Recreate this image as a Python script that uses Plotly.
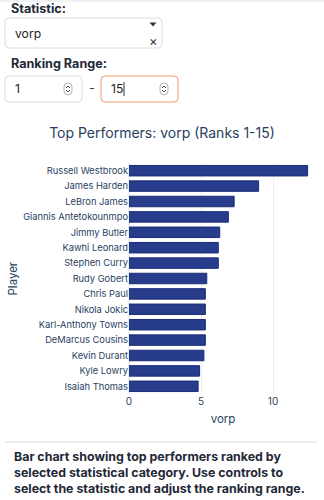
import plotly.graph_objects as go

# Top performers by VORP, ranks 1-15
players = [
    "Russell Westbrook", "James Harden", "LeBron James", "Giannis Antetokounmpo",
    "Jimmy Butler", "Kawhi Leonard", "Stephen Curry", "Rudy Gobert", "Chris Paul",
    "Nikola Jokic", "Karl-Anthony Towns", "DeMarcus Cousins", "Kevin Durant",
    "Kyle Lowry", "Isaiah Thomas",
]
vorp = [12.4, 9.0, 7.3, 6.9, 6.3, 6.2, 6.2, 5.4, 5.3, 5.3, 5.3, 5.3, 5.2, 4.9, 4.8]

stat_name = "vorp"
rank_lo, rank_hi = 1, 15
x_ticks = [0, 5, 10]

W, H = 324, 500
ML, MR, MT, MB = 129, 7, 163, 106
PW, PH = W - ML - MR, H - MT - MB

FONT = "Inter, Roboto, sans-serif"
DARK = "#1f2937"
AXIS = "#2a3f5f"


def px(x):
    return (x - ML) / PW


def py(y):
    return 1 - (y - MT) / PH


def rrect(x0, y0, x1, y1, r):
    """Rounded rectangle path in paper coordinates from pixel corners."""
    pts = [
        f"M{px(x0 + r)},{py(y0)}",
        f"L{px(x1 - r)},{py(y0)}",
        f"Q{px(x1)},{py(y0)} {px(x1)},{py(y0 + r)}",
        f"L{px(x1)},{py(y1 - r)}",
        f"Q{px(x1)},{py(y1)} {px(x1 - r)},{py(y1)}",
        f"L{px(x0 + r)},{py(y1)}",
        f"Q{px(x0)},{py(y1)} {px(x0)},{py(y1 - r)}",
        f"L{px(x0)},{py(y0 + r)}",
        f"Q{px(x0)},{py(y0)} {px(x0 + r)},{py(y0)}",
        "Z",
    ]
    return " ".join(pts)


def poly(points, close=False):
    s = "M" + " L".join(f"{px(a)},{py(b)}" for a, b in points)
    return s + (" Z" if close else "")


fig = go.Figure(
    go.Bar(
        x=vorp,
        y=players,
        orientation="h",
        marker=dict(color="#283c8c", line=dict(color="#1b2d78", width=1)),
    )
)

shapes = []
annotations = []

# thin strip across the top of the page
shapes.append(dict(type="rect", xref="paper", yref="paper",
                   x0=px(0), x1=px(W), y0=py(0), y1=py(2),
                   fillcolor="#f1f2f4", line=dict(width=0), layer="below"))

# "Statistic:" dropdown
annotations.append(dict(text="<b>Statistic:</b>", x=px(9), y=py(8), xref="paper", yref="paper",
                        xanchor="left", yanchor="middle", showarrow=False,
                        font=dict(family=FONT, size=12.6, color=DARK)))
shapes.append(dict(type="path", xref="paper", yref="paper", path=rrect(5, 18, 162, 48, 4),
                   line=dict(color="#d9dce1", width=1), fillcolor="white"))
annotations.append(dict(text=stat_name, x=px(13), y=py(33), xref="paper", yref="paper",
                        xanchor="left", yanchor="middle", showarrow=False,
                        font=dict(family=FONT, size=12.2, color="#222")))
shapes.append(dict(type="path", xref="paper", yref="paper",
                   path=poly([(149.5, 22.5), (156.5, 22.5), (153, 26.5)], close=True),
                   fillcolor="#333", line=dict(width=0)))
annotations.append(dict(text="×", x=px(153), y=py(41), xref="paper", yref="paper",
                        xanchor="center", yanchor="middle", showarrow=False,
                        font=dict(family=FONT, size=13, color="#333")))

# "Ranking Range:" inputs
annotations.append(dict(text="<b>Ranking Range:</b>", x=px(9), y=py(63), xref="paper", yref="paper",
                        xanchor="left", yanchor="middle", showarrow=False,
                        font=dict(family=FONT, size=12.6, color=DARK)))
for (x0, x1, border, val) in [(5, 82, "#d9dce1", str(rank_lo)), (101, 178, "#f0996e", str(rank_hi))]:
    shapes.append(dict(type="path", xref="paper", yref="paper", path=rrect(x0, 76, x1, 102, 4),
                       line=dict(color=border, width=1), fillcolor="white"))
    annotations.append(dict(text=val, x=px(x0 + 8), y=py(89), xref="paper", yref="paper",
                            xanchor="left", yanchor="middle", showarrow=False,
                            font=dict(family=FONT, size=12.2, color="#222")))
    # spinner control
    sx = x1 - 14
    shapes.append(dict(type="path", xref="paper", yref="paper", path=rrect(sx - 4, 83, sx + 4, 95, 4),
                       line=dict(color="#b5b9c0", width=1)))
    shapes.append(dict(type="path", xref="paper", yref="paper",
                       path=poly([(sx - 2, 88), (sx, 86), (sx + 2, 88)]),
                       line=dict(color="#555", width=1)))
    shapes.append(dict(type="path", xref="paper", yref="paper",
                       path=poly([(sx - 2, 90), (sx, 92), (sx + 2, 90)]),
                       line=dict(color="#555", width=1)))
annotations.append(dict(text="-", x=px(92), y=py(88), xref="paper", yref="paper",
                        xanchor="center", yanchor="middle", showarrow=False,
                        font=dict(family=FONT, size=13, color="#444")))
# text cursor in the active input
shapes.append(dict(type="line", xref="paper", yref="paper",
                   x0=px(124), x1=px(124), y0=py(82), y1=py(96),
                   line=dict(color="#333", width=1)))

# y-axis title placed beside the category labels
annotations.append(dict(text="Player", x=px(12), y=0.5, xref="paper", yref="paper",
                        xanchor="center", yanchor="middle", textangle=-90, showarrow=False,
                        font=dict(family=FONT, size=11.5, color=AXIS)))

# separator and description
shapes.append(dict(type="line", xref="paper", yref="paper",
                   x0=px(5), x1=px(317), y0=py(442), y1=py(442),
                   line=dict(color="#e6e9ee", width=1.5)))
annotations.append(dict(
    text="<b>Bar chart showing top performers ranked by<br>"
         "selected statistical category. Use controls to<br>"
         "select the statistic and adjust the ranking range.</b>",
    x=px(12), y=py(447), xref="paper", yref="paper",
    xanchor="left", yanchor="top", align="left", showarrow=False,
    font=dict(family=FONT, size=12.4, color=DARK)))

fig.update_layout(
    template="plotly_white",
    width=W, height=H,
    margin=dict(l=ML, r=MR, t=MT, b=MB, autoexpand=False),
    font=dict(family=FONT, size=9.3, color=AXIS),
    title=dict(text=f"Top Performers: {stat_name} (Ranks {rank_lo}-{rank_hi})",
               x=0.5, xanchor="center", xref="container",
               y=1 - 133 / H, yanchor="middle",
               font=dict(family=FONT, size=14, color=AXIS)),
    bargap=0.32,
    showlegend=False,
    shapes=shapes,
    annotations=annotations,
    xaxis=dict(title=dict(text=stat_name, font=dict(size=11.5), standoff=8),
               tickvals=x_ticks, ticks="", gridcolor="#ebf0f8", automargin=False,
               tickfont=dict(size=10),
               zeroline=True, zerolinecolor="#ebf0f8"),
    yaxis=dict(categoryorder="array", categoryarray=players, autorange="reversed",
               ticks="", ticklabelstandoff=0, automargin=False),
)

fig.write_html("out.html")
